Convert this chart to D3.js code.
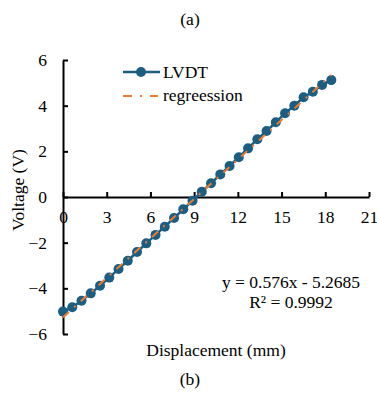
<!DOCTYPE html>
<html>
<head>
<meta charset="utf-8">
<script src="https://cdn.jsdelivr.net/npm/d3@7"></script>
<style>
    body { margin: 0; background: #fff; }
    svg text { font-family: "Liberation Serif", "Times New Roman", serif; fill: #000; }
</style>
</head>
<body>
<div id="chart"></div>
<script>
// LVDT readings: displacement steps of 0.635 mm (0.025 in)
const displacement = [0, 0.635, 1.27, 1.905, 2.54, 3.175, 3.81, 4.445, 5.08, 5.715,
    6.35, 6.985, 7.62, 8.255, 8.89, 9.525, 10.16, 10.795, 11.43, 12.065,
    12.7, 13.335, 13.97, 14.605, 15.24, 15.875, 16.51, 17.145, 17.78, 18.415];
const voltage = [-5.02, -4.83, -4.54, -4.22, -3.89, -3.53, -3.15, -2.79, -2.41, -2.03,
    -1.66, -1.30, -0.92, -0.54, -0.16, 0.23, 0.60, 0.99, 1.36, 1.74,
    2.13, 2.53, 2.89, 3.27, 3.67, 4.00, 4.37, 4.61, 4.91, 5.12];
const slope = 0.576;
const intercept = -5.2685;
const xTicks = [0, 3, 6, 9, 12, 15, 18, 21];
const yTicks = [-6, -4, -2, 0, 2, 4, 6];
const seriesNames = ["LVDT", "regreession"];
const equationLines = ["y = 0.576x - 5.2685", "R² = 0.9992"];

const width = 377;
const height = 403;
const blue = "#1b5e82";
const orange = "#ed7d31";
const fontSize = 17.5;

const svg = d3.select("#chart")
    .append("svg")
    .attr("width", width)
    .attr("height", height);

const x = d3.scaleLinear().domain([0, 21]).range([63, 369]);
const y = d3.scaleLinear().domain([-6, 6]).range([334, 60]);

// axes cross at the origin, ticks point inside
const xAxis = svg.append("g")
    .attr("transform", `translate(0, ${y(0)})`)
    .call(d3.axisBottom(x).tickValues(xTicks).tickSize(-5).tickSizeOuter(0).tickPadding(14));

const yAxis = svg.append("g")
    .attr("transform", `translate(${x(0)}, 0)`)
    .call(d3.axisLeft(y).tickValues(yTicks).tickSize(-5).tickSizeOuter(0).tickPadding(16));

[xAxis, yAxis].forEach(g => {
    g.select(".domain").attr("stroke", "#000").attr("stroke-width", 2);
    g.selectAll(".tick line").attr("stroke", "#000").attr("stroke-width", 2);
    g.selectAll(".tick text")
        .attr("font-size", fontSize)
        .attr("font-family", "Liberation Serif, serif");
});

// data line + markers
const points = displacement.map((d, i) => ({ x: d, y: voltage[i] }));

svg.append("path")
    .datum(points)
    .attr("fill", "none")
    .attr("stroke", blue)
    .attr("stroke-width", 2.5)
    .attr("d", d3.line().x(d => x(d.x)).y(d => y(d.y)));

svg.selectAll(".pt")
    .data(points)
    .enter()
    .append("circle")
    .attr("class", "pt")
    .attr("cx", d => x(d.x))
    .attr("cy", d => y(d.y))
    .attr("r", 5)
    .attr("fill", blue);

// regression line over the data range
const xMin = d3.min(displacement);
const xMax = d3.max(displacement);
svg.append("line")
    .attr("x1", x(xMin))
    .attr("y1", y(slope * xMin + intercept))
    .attr("x2", x(xMax))
    .attr("y2", y(slope * xMax + intercept))
    .attr("stroke", orange)
    .attr("stroke-width", 2)
    .attr("stroke-dasharray", "8,7,2,7");

// legend
const legend = svg.append("g");
legend.append("line")
    .attr("x1", 123).attr("x2", 160).attr("y1", 72).attr("y2", 72)
    .attr("stroke", blue).attr("stroke-width", 2.5);
legend.append("circle")
    .attr("cx", 141).attr("cy", 72).attr("r", 5).attr("fill", blue);
legend.append("text")
    .attr("x", 163).attr("y", 78)
    .attr("font-size", fontSize)
    .text(seriesNames[0]);
legend.append("line")
    .attr("x1", 123).attr("x2", 158).attr("y1", 96).attr("y2", 96)
    .attr("stroke", orange).attr("stroke-width", 2)
    .attr("stroke-dasharray", "9,8,2,8");
legend.append("text")
    .attr("x", 163).attr("y", 101)
    .attr("font-size", fontSize)
    .text(seriesNames[1]);

// equation
svg.selectAll(".eq")
    .data(equationLines)
    .enter()
    .append("text")
    .attr("class", "eq")
    .attr("x", 291)
    .attr("y", (d, i) => 288 + i * 20)
    .attr("text-anchor", "middle")
    .attr("font-size", fontSize)
    .text(d => d);

// axis titles
svg.append("text")
    .attr("x", 216)
    .attr("y", 356)
    .attr("text-anchor", "middle")
    .attr("font-size", fontSize)
    .text("Displacement (mm)");

svg.append("text")
    .attr("transform", "rotate(-90)")
    .attr("x", -190)
    .attr("y", 24)
    .attr("text-anchor", "middle")
    .attr("font-size", fontSize)
    .text("Voltage (V)");

// panel captions
svg.append("text")
    .attr("x", 190)
    .attr("y", 25)
    .attr("text-anchor", "middle")
    .attr("font-size", fontSize)
    .text("(a)");

svg.append("text")
    .attr("x", 190)
    .attr("y", 385)
    .attr("text-anchor", "middle")
    .attr("font-size", fontSize)
    .text("(b)");
</script>
</body>
</html>
